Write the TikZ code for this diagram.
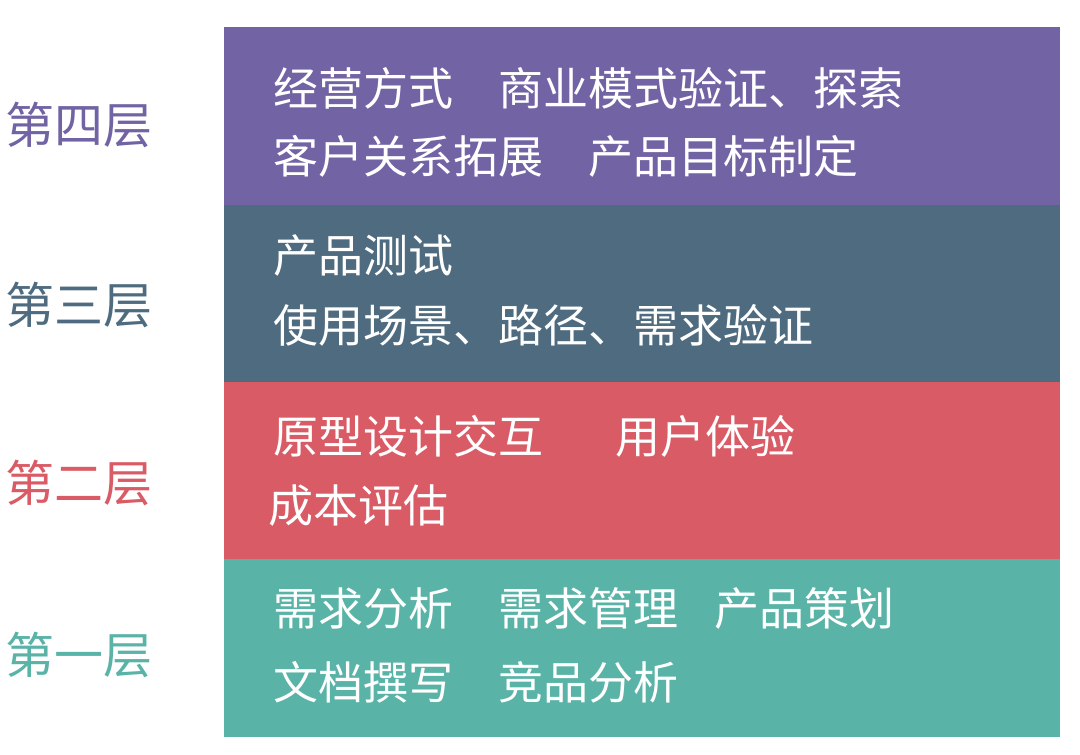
\documentclass[tikz,border=0pt]{standalone}
\usepackage{fontspec}
\newfontfamily\cjk{Noto Sans CJK SC}
\definecolor{layerfour}{HTML}{7163A4}
\definecolor{layerthree}{HTML}{4E6B7F}
\definecolor{layertwo}{HTML}{D95B65}
\definecolor{layerone}{HTML}{5AB3A7}
\tikzset{
	bandtext/.style={anchor=west, inner sep=0pt, text=white, font=\cjk\fontsize{45}{50}\selectfont},
	layername/.style={anchor=west, inner sep=0pt, font=\cjk\fontsize{49}{54}\selectfont}
}
\begin{document}
\begin{tikzpicture}[x=1pt, y=-1pt]
			\useasboundingbox[fill=white] (0, 0) rectangle (1080, 755);
			%%draw the bands
			\fill[layerfour] (224, 27) rectangle (1060, 205);
			\fill[layerthree] (224, 205) rectangle (1060, 382);
			\fill[layertwo] (224, 382) rectangle (1060, 559);
			\fill[layerone] (224, 559) rectangle (1060, 737);

			%%names of the layers
			\node[layername, text=layerfour] (namefour) at (5, 125){第四层};
			\node[layername, text=layerthree] (namethree) at (5, 305){第三层};
			\node[layername, text=layertwo] (nametwo) at (5, 483){第二层};
			\node[layername, text=layerone] (nameone) at (5, 655){第一层};

			%%fourth layer
			\node[bandtext] (fourA) at (273, 88){经营方式　商业模式验证、探索};
			\node[bandtext] (fourB) at (273, 156){客户关系拓展　产品目标制定};
			%%third layer
			\node[bandtext] (threeA) at (273, 256){产品测试};
			\node[bandtext] (threeB) at (273, 325){使用场景、路径、需求验证};
			%%second layer
			\node[bandtext] (twoA) at (273, 436){原型设计交互\hspace{1.6em}用户体验};
			\node[bandtext] (twoB) at (268, 506){成本评估};
			%%first layer
			\node[bandtext] (oneA) at (273, 608){需求分析　需求管理\hspace{0.8em}产品策划};
			\node[bandtext] (oneB) at (273, 682){文档撰写　竞品分析};
\end{tikzpicture}
\end{document}
